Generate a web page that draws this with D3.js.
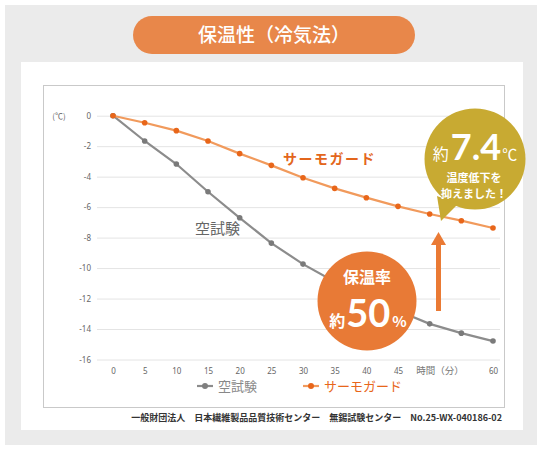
<!DOCTYPE html>
<html lang="ja">
  <head>
    <meta charset="UTF-8" />
    <title>保温性（冷気法）</title>
    <style>
      body { margin: 0; background: #fff; }
      svg { display: block; font-family: 'Noto Sans CJK JP', 'Noto Sans', sans-serif; }
    </style>
  </head>
  <body>
    <svg id="Chart"></svg>
    <script src="https://d3js.org/d3.v7.min.js"></script>
    <script>
      // minutes
      const minutes = [0, 5, 10, 15, 20, 25, 30, 35, 40, 45, 50, 55, 60];
      // blank test (空試験), °C
      const blankTest = [0, -1.66, -3.17, -4.99, -6.7, -8.36, -9.74, -10.9, -11.9, -12.8, -13.66, -14.27, -14.79];
      // サーモガード, °C
      const thermoGuard = [0, -0.46, -0.98, -1.66, -2.49, -3.26, -4.07, -4.77, -5.38, -5.95, -6.45, -6.89, -7.37];
      const yTicks = [0, -2, -4, -6, -8, -10, -12, -14, -16];
      const xTicks = [0, 5, 10, 15, 20, 25, 30, 35, 40, 45, 60];
      const seriesNames = ['空試験', 'サーモガード'];

      const title = '保温性（冷気法）';
      const footer = '一般財団法人　日本繊維製品品質技術センター　無錫試験センター　No.25-WX-040186-02';

      function getConfig() {
        let width = 541;
        let height = 450;
        let container = d3.select('#Chart').attr('width', width).attr('height', height);
        return { width, height, container };
      }

      function getScales() {
        let xScale = d3.scaleLinear().domain([0, 60]).range([113, 493]);
        let yScale = d3.scaleLinear().domain([-16, 0]).range([359.5, 115.7]);
        return { xScale, yScale };
      }

      function drawFrame(config) {
        let { container } = config;
        container.append('rect').attr('x', 5).attr('y', 5).attr('width', 532).attr('height', 440).attr('fill', '#ebebeb');
        container.append('rect').attr('x', 21).attr('y', 62).attr('width', 502).attr('height', 368).attr('fill', '#fff');
        container.append('rect').attr('x', 43.5).attr('y', 85.5).attr('width', 461).attr('height', 322)
          .attr('fill', '#fff').attr('stroke', '#c9c9c9');

        // title pill
        container.append('rect').attr('x', 133).attr('y', 16).attr('width', 282).attr('height', 38).attr('rx', 19)
          .attr('fill', '#e8874a');
        container.append('text').attr('x', 274).attr('y', 42).attr('text-anchor', 'middle')
          .attr('fill', '#fff').attr('font-size', 19).attr('font-weight', 500).text(title);

        container.append('text').attr('x', 502).attr('y', 421).attr('text-anchor', 'end')
          .attr('fill', '#333').attr('font-size', 9).attr('font-weight', 700).text(footer);
      }

      function drawAxes(scales, config) {
        let { xScale, yScale } = scales;
        let { container } = config;

        let axisY = d3.axisLeft(yScale).tickValues(yTicks).tickSize(-403).tickPadding(6)
          .tickFormat((d) => d);
        let gy = container.append('g').attr('transform', 'translate(97,0)').call(axisY);
        gy.select('.domain').remove();
        gy.selectAll('line').attr('stroke', '#e4e4e4');
        gy.selectAll('text').attr('fill', '#666').attr('font-size', 8).attr('font-family', 'Noto Sans, sans-serif');

        let axisX = d3.axisBottom(xScale).tickValues(xTicks).tickSize(0).tickPadding(3);
        let gx = container.append('g').attr('transform', 'translate(0,365)').call(axisX);
        gx.select('.domain').remove();
        gx.selectAll('text').attr('fill', '#666').attr('font-size', 8).attr('font-family', 'Noto Sans, sans-serif');

        container.append('text').attr('x', 440).attr('y', 374).attr('text-anchor', 'middle')
          .attr('fill', '#777').attr('font-size', 9.5).text('時間（分）');
        container.append('text').attr('x', 59).attr('y', 119).attr('text-anchor', 'middle')
          .attr('fill', '#666').attr('font-size', 8).text('(℃)');
      }

      function drawSeries(values, color, lineColor, scales, config) {
        let { xScale, yScale } = scales;
        let { container } = config;
        let data = minutes.map((m, i) => ({ m, v: values[i] }));
        let line = d3.line().x((d) => xScale(d.m)).y((d) => yScale(d.v));
        container.append('path').datum(data).attr('d', line)
          .attr('fill', 'none').attr('stroke', lineColor).attr('stroke-width', 2.2);
        container.append('g').selectAll('circle').data(data).enter().append('circle')
          .attr('cx', (d) => xScale(d.m)).attr('cy', (d) => yScale(d.v)).attr('r', 2.8)
          .attr('fill', color);
      }

      function drawLegend(config) {
        let { container } = config;
        let items = [
          { name: seriesNames[0], x: 197, color: '#7f7f7f', text: '#888', line: '#8c8c8c' },
          { name: seriesNames[1], x: 303, color: '#e8661a', text: '#e8661a', line: '#f19a5c' },
        ];
        items.forEach((it) => {
          container.append('line').attr('x1', it.x).attr('x2', it.x + 16).attr('y1', 386).attr('y2', 386)
            .attr('stroke', it.line).attr('stroke-width', 2.2);
          container.append('circle').attr('cx', it.x + 8).attr('cy', 386).attr('r', 3).attr('fill', it.color);
          container.append('text').attr('x', it.x + 21).attr('y', 391).attr('fill', it.text)
            .attr('font-size', 13).text(it.name);
        });
      }

      function drawCallouts(config) {
        let { container } = config;

        container.append('text').attr('x', 283).attr('y', 164).attr('fill', '#e3661c')
          .attr('font-size', 14).attr('font-weight', 700).attr('letter-spacing', 1.5).text(seriesNames[1]);
        container.append('text').attr('x', 195).attr('y', 234).attr('fill', '#666')
          .attr('font-size', 15).text(seriesNames[0]);

        // arrow
        container.append('rect').attr('x', 436).attr('y', 242).attr('width', 5).attr('height', 69).attr('fill', '#ea7a34');
        container.append('path').attr('d', 'M431,245 L438.5,232 L446,245 Z').attr('fill', '#ea7a34');

        // orange circle
        container.append('circle').attr('cx', 367).attr('cy', 301).attr('r', 49.5).attr('fill', '#e87a36');
        container.append('text').attr('x', 367).attr('y', 283).attr('text-anchor', 'middle').attr('fill', '#fff')
          .attr('font-size', 16).attr('font-weight', 700).text('保温率');
        let t = container.append('text').attr('x', 368).attr('y', 327).attr('text-anchor', 'middle').attr('fill', '#fff')
          .attr('font-weight', 700);
        t.append('tspan').attr('font-size', 16).text('約');
        t.append('tspan').attr('font-size', 38).attr('font-family', 'Lato, sans-serif').attr('dx', 1).text('50');
        t.append('tspan').attr('font-size', 15).attr('dx', 2).text('%');

        // gold speech bubble
        container.append('path').attr('d', 'M437,196 L441,221 L458,204 Z').attr('fill', '#c8aa32');
        container.append('circle').attr('cx', 475).attr('cy', 159).attr('r', 50.5).attr('fill', '#c8aa32');
        let b = container.append('text').attr('x', 475).attr('y', 160).attr('text-anchor', 'middle').attr('fill', '#fff');
        b.append('tspan').attr('font-size', 16).text('約');
        b.append('tspan').attr('font-size', 36).attr('font-weight', 700).attr('font-family', 'Lato, sans-serif')
          .attr('dx', 2).text('7.4');
        b.append('tspan').attr('font-size', 15).attr('dx', 1).text('℃');
        container.append('text').attr('x', 474).attr('y', 182).attr('text-anchor', 'middle').attr('fill', '#fff')
          .attr('font-size', 11).attr('font-weight', 700).text('温度低下を');
        container.append('text').attr('x', 474).attr('y', 198).attr('text-anchor', 'middle').attr('fill', '#fff')
          .attr('font-size', 11).attr('font-weight', 700).text('抑えました！');
      }

      let config = getConfig();
      let scales = getScales();
      drawFrame(config);
      drawAxes(scales, config);
      drawSeries(blankTest, '#7a7a7a', '#8c8c8c', scales, config);
      drawSeries(thermoGuard, '#e8661a', '#f19a5c', scales, config);
      drawLegend(config);
      drawCallouts(config);
    </script>
  </body>
</html>
